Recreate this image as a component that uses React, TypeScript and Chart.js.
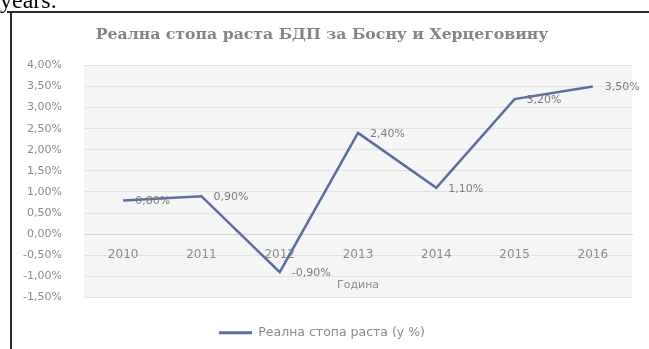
import React, { useEffect, useRef } from "react";
import { Chart, registerables } from "chart.js";

Chart.register(...registerables);

const categories = ["2010", "2011", "2012", "2013", "2014", "2015", "2016"];
const growthValues = [0.8, 0.9, -0.9, 2.4, 1.1, 3.2, 3.5];
const yMin = -1.5;
const yMax = 4;
const yStep = 0.5;
const chartTitle = "Реална стопа раста БДП за Босну и Херцеговину";
const seriesName = "Реална стопа раста (у %)";
const xAxisTitle = "Година";

const fmt = (v: number) => v.toFixed(2).replace(".", ",") + "%";

const LINE_COLOR = "#5b6e9f";
const TEXT_COLOR = "#8a8a8a";
const LABEL_FONT = "DejaVu Sans";

const framePlugin = {
  id: "frame",
  beforeDraw(chart: any) {
    const { ctx, chartArea } = chart;
    ctx.save();
    ctx.fillStyle = "#ffffff";
    ctx.fillRect(0, 0, chart.width, chart.height);
    ctx.fillStyle = "#f5f5f5";
    ctx.fillRect(chartArea.left, chartArea.top, chartArea.right - chartArea.left, chartArea.bottom - chartArea.top);
    ctx.restore();
  },
  afterDraw(chart: any) {
    const { ctx } = chart;
    ctx.save();
    // document text cut off above the figure
    ctx.fillStyle = "#000";
    ctx.font = "24px 'Liberation Serif'";
    ctx.textBaseline = "alphabetic";
    ctx.textAlign = "left";
    ctx.fillText("years.", 0, 8);
    // figure border
    ctx.fillStyle = "#2b2b2b";
    ctx.fillRect(7, 11, chart.width - 7, 2);
    ctx.fillRect(10, 11, 2, chart.height - 11);
    ctx.restore();
  },
};

const dataLabelPlugin = {
  id: "dataLabels",
  afterDatasetsDraw(chart: any) {
    const { ctx } = chart;
    const meta = chart.getDatasetMeta(0);
    const data = chart.data.datasets[0].data as number[];
    ctx.save();
    ctx.fillStyle = "#7c7c7c";
    ctx.font = `11px '${LABEL_FONT}'`;
    ctx.textAlign = "left";
    ctx.textBaseline = "middle";
    meta.data.forEach((pt: any, i: number) => {
      ctx.fillText(fmt(data[i]), pt.x + 12, pt.y + 1);
    });
    ctx.restore();
  },
};

export default function App() {
  const canvasRef = useRef<HTMLCanvasElement | null>(null);

  useEffect(() => {
    document.body.style.margin = "0";
    const canvas = canvasRef.current;
    if (!canvas) return;
    const chart = new Chart(canvas, {
      type: "line",
      data: {
        labels: categories,
        datasets: [
          {
            label: seriesName,
            data: growthValues,
            borderColor: LINE_COLOR,
            backgroundColor: LINE_COLOR,
            borderWidth: 2.5,
            pointRadius: 0,
            tension: 0,
          },
        ],
      },
      options: {
        animation: false,
        responsive: false,
        devicePixelRatio: 1,
        layout: { padding: { left: 12, right: 17, top: 0, bottom: 0 } },
        plugins: {
          title: {
            display: true,
            text: chartTitle,
            color: "#858585",
            font: { family: "DejaVu Serif", size: 15.7, weight: "bold" },
            padding: { top: 25.5, bottom: 21 },
          },
          legend: {
            position: "bottom",
            title: {
              display: true,
              text: " ",
              font: { size: 1 },
              padding: { top: 0, bottom: 17.8 },
            },
            labels: {
              color: TEXT_COLOR,
              font: { family: LABEL_FONT, size: 12.5 },
              boxWidth: 33,
              boxHeight: 3,
              padding: 10,
              generateLabels: (ch: any) =>
                ch.data.datasets.map((ds: any, i: number) => ({
                  text: ds.label,
                  fillStyle: LINE_COLOR,
                  strokeStyle: LINE_COLOR,
                  lineWidth: 0,
                  hidden: false,
                  datasetIndex: i,
                  fontColor: TEXT_COLOR,
                })),
            },
          },
          tooltip: { enabled: false },
        },
        scales: {
          x: {
            position: { y: 0 } as any,
            offset: true,
            grid: { display: false, drawTicks: false },
            border: { display: true, color: "#d4d4d4", width: 1 },
            ticks: {
              color: TEXT_COLOR,
              font: { family: LABEL_FONT, size: 12 },
              padding: 13,
              maxRotation: 0,
            },
            title: {
              display: true,
              text: xAxisTitle,
              color: TEXT_COLOR,
              font: { family: LABEL_FONT, size: 11 },
              padding: { top: 4, bottom: 0 },
            },
          },
          y: {
            min: yMin,
            max: yMax,
            grid: { color: "#e2e2e2", drawTicks: false },
            border: { display: false },
            ticks: {
              stepSize: yStep,
              color: TEXT_COLOR,
              font: { family: LABEL_FONT, size: 11 },
              padding: 22,
              callback: (v: any) => fmt(Number(v)),
            },
            afterFit: (scale: any) => {
              scale.width = 72;
            },
          },
        },
      },
      plugins: [framePlugin, dataLabelPlugin],
    });
    return () => chart.destroy();
  }, []);

  return (
    <div style={{ position: "absolute", left: 0, top: 0, width: 649, height: 349 }}>
      <canvas ref={canvasRef} width={649} height={349} style={{ display: "block" }} />
    </div>
  );
}
